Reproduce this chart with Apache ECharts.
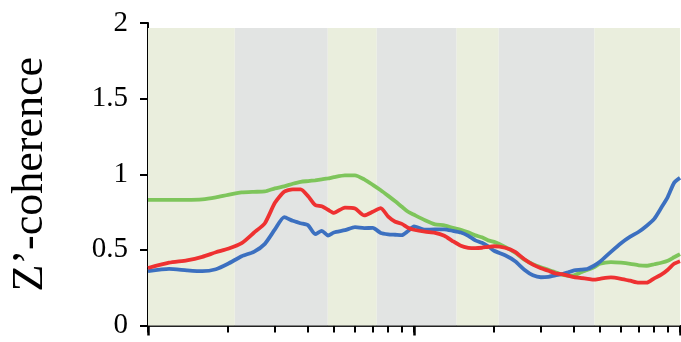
<!DOCTYPE html>
<html>
<head>
<meta charset="utf-8">
<script src="https://cdn.jsdelivr.net/npm/echarts@6/dist/echarts.min.js"></script>
<style>html,body{margin:0;padding:0;background:#fff;}#c{width:681px;height:342px;}</style>
</head>
<body>
<div id="c"></div>
<script>
const freq = [1,1.2,1.4,1.6,1.8,2,2.25,2.5,2.75,3,3.25,3.5,3.75,4,4.25,4.5,4.75,5,5.5,6,6.5,7,7.5,8,8.5,9,9.5,10,11,12,13,14,15,16,17,18,19,20,22,24,26,28,30,32,34,36,38,40,42.5,45,47.5,50,55,60,65,70,75,80,85,90,95,100];
const green = [0.831,0.831,0.831,0.834,0.847,0.864,0.880,0.884,0.886,0.907,0.920,0.937,0.950,0.955,0.960,0.966,0.972,0.981,0.993,0.993,0.966,0.930,0.894,0.857,0.821,0.785,0.752,0.732,0.696,0.669,0.662,0.646,0.633,0.616,0.596,0.583,0.563,0.553,0.520,0.481,0.435,0.405,0.385,0.369,0.352,0.336,0.329,0.332,0.352,0.369,0.385,0.408,0.419,0.415,0.408,0.398,0.395,0.405,0.415,0.428,0.451,0.472];
const blue = [0.359,0.375,0.365,0.359,0.372,0.408,0.458,0.487,0.540,0.635,0.716,0.692,0.676,0.662,0.604,0.626,0.595,0.615,0.630,0.650,0.644,0.645,0.612,0.603,0.600,0.597,0.625,0.655,0.633,0.636,0.636,0.626,0.615,0.593,0.563,0.547,0.524,0.494,0.464,0.425,0.369,0.332,0.319,0.322,0.332,0.339,0.352,0.365,0.369,0.375,0.395,0.421,0.487,0.544,0.587,0.620,0.660,0.705,0.778,0.851,0.943,0.976];
const red = [0.380,0.415,0.431,0.454,0.484,0.507,0.544,0.613,0.676,0.811,0.884,0.900,0.900,0.855,0.797,0.788,0.765,0.745,0.780,0.774,0.728,0.752,0.776,0.720,0.686,0.672,0.646,0.633,0.620,0.613,0.593,0.557,0.527,0.514,0.511,0.514,0.520,0.524,0.514,0.487,0.438,0.402,0.378,0.362,0.345,0.340,0.330,0.320,0.314,0.309,0.303,0.309,0.318,0.309,0.296,0.283,0.283,0.312,0.336,0.369,0.408,0.425];
const bandEdges = [1,2.12,4.74,7.24,14.46,20.83,47.7,100];
const bandTop = 1.967;
const yTicks = [0,0.5,1,1.5,2];
const minorTickValues = [1,2,3,4,5,6,7,8,9,10,20,30,40,50,60,70,80,90,100];
const majorTickValues = [1,10,100];

const bandColors = ['#eaeedd','#e2e4e3'];
const bands = [];
for (let i = 0; i < bandEdges.length - 1; i++) {
  bands.push([{xAxis: bandEdges[i], yAxis: 0, itemStyle: {color: bandColors[i % 2]}}, {xAxis: bandEdges[i+1], yAxis: bandTop}]);
}
const pairs = arr => freq.map((f, i) => [f, arr[i]]);
const font = 'Liberation Serif';

const chart = echarts.init(document.getElementById('c'), null, {renderer: 'canvas'});
chart.setOption({
  animation: false,
  grid: {left: 147, right: 1, top: 23, bottom: 16.5, containLabel: false},
  xAxis: [{
    type: 'log', logBase: 10, min: 1, max: 100,
    axisLine: {show: true, onZero: false, lineStyle: {color: '#222', width: 2}},
    axisTick: {show: true, length: 7, customValues: minorTickValues, lineStyle: {color: '#000', width: 2}},
    axisLabel: {show: false},
    splitLine: {show: false}
  }, {
    type: 'log', logBase: 10, min: 1, max: 100, position: 'bottom',
    axisLine: {show: false},
    axisTick: {show: true, length: 10, customValues: majorTickValues, lineStyle: {color: '#000', width: 2.5}},
    axisLabel: {show: false},
    splitLine: {show: false}
  }],
  yAxis: {
    type: 'value', min: 0, max: 2, interval: 0.5,
    name: 'Z’-coherence', nameLocation: 'middle', nameRotate: 90, nameGap: 96,
    nameTextStyle: {fontFamily: font, fontSize: 44, color: '#000'},
    axisLine: {show: true, lineStyle: {color: '#000', width: 2}},
    axisTick: {show: true, length: 8, lineStyle: {color: '#000', width: 2}},
    axisLabel: {margin: 20, fontFamily: font, fontSize: 29, color: '#000', formatter: v => yTicks.includes(v) ? String(v) : ''},
    splitLine: {show: false}
  },
  series: [{
    type: 'line', name: 'bands', data: [], silent: true,
    markArea: {silent: true, data: bands}
  }, {
    type: 'line', name: 'green', data: pairs(green), showSymbol: false, smooth: 0.2,
    lineStyle: {color: '#7ec55b', width: 3.8}, z: 3
  }, {
    type: 'line', name: 'blue', data: pairs(blue), showSymbol: false, smooth: 0.2,
    lineStyle: {color: '#3c70c0', width: 3.8}, z: 4
  }, {
    type: 'line', name: 'red', data: pairs(red), showSymbol: false, smooth: 0.2,
    lineStyle: {color: '#ee3131', width: 3.8}, z: 5
  }]
});
</script>
</body>
</html>
